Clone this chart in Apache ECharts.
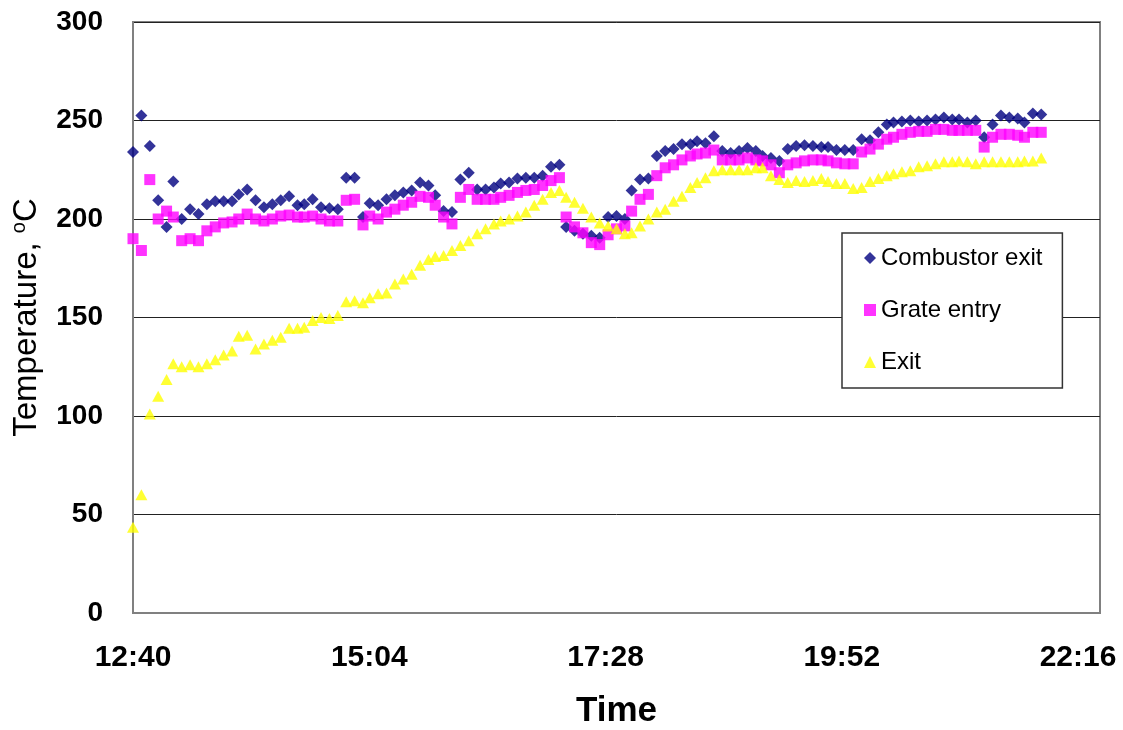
<!DOCTYPE html>
<html>
<head>
<meta charset="utf-8">
<script src="https://cdn.jsdelivr.net/npm/echarts@6/dist/echarts.min.js"></script>
<style>
  html, body { margin: 0; padding: 0; background: #fff; overflow: hidden; }
  #chart { width: 1123px; height: 730px; }
</style>
</head>
<body>
<div id="chart"></div>
<script>
// Logged sample times (HH:MM)
const sampleTimes = [
  '12:40','12:45','12:50','12:55','13:00','13:04','13:09','13:14','13:19','13:24',
  '13:29','13:34','13:39','13:43','13:48','13:53','13:58','14:03','14:08','14:13',
  '14:18','14:22','14:27','14:32','14:37','14:42','14:47','14:52','14:57','15:01',
  '15:06','15:11','15:16','15:21','15:26','15:31','15:36','15:40','15:45','15:50',
  '15:55','16:00','16:05','16:10','16:15','16:19','16:24','16:29','16:34','16:39',
  '16:44','16:49','16:54','16:58','17:03','17:08','17:13','17:18','17:23','17:28',
  '17:33','17:37','17:42','17:47','17:52','17:57','18:02','18:07','18:12','18:16',
  '18:21','18:26','18:31','18:36','18:41','18:46','18:51','18:55','19:00','19:05',
  '19:10','19:15','19:20','19:25','19:30','19:34','19:39','19:44','19:49','19:54',
  '19:59','20:04','20:09','20:13','20:18','20:23','20:28','20:33','20:38','20:43',
  '20:48','20:52','20:57','21:02','21:07','21:12','21:17','21:22','21:27','21:31',
  '21:36','21:41'
];

// Temperatures, °C
const combustorExit = [
  234, 252.5, 237, 209.5, 196, 219, 200, 205, 202.5, 207.5,
  209, 209, 209, 212.5, 215, 209.5, 206, 207.5, 209.5, 211.5,
  207, 207.5, 210, 206, 205.5, 205, 221, 221, 201, 208,
  207, 210, 212, 213.5, 214.5, 218.5, 217, 212, 204, 203.5,
  220, 223.5, 215, 215, 216, 218, 218.5, 220.5, 221, 221,
  222, 226.5, 227.5, 196, 194, 192.5, 191.5, 190.5, 201, 201.5,
  200, 214.5, 220, 220.5, 232, 234.5, 235.5, 238, 238, 239.5,
  238.5, 242, 234.5, 233.5, 234.5, 236, 234.5, 232, 231, 229.5,
  235.5, 237, 237.5, 237, 236.5, 236.5, 235, 235, 235, 240.5,
  240, 244, 248, 249, 249.5, 250, 249.5, 250, 250.5, 251.5,
  250.5, 250.5, 249, 250, 241.5, 248, 252.5, 251.5, 251, 249,
  253.5, 253
];

const grateEntry = [
  190, 184, 220, 200, 204, 201, 189, 190, 189, 194,
  196, 198, 198.5, 200, 202.5, 200, 199, 200, 201.5, 202,
  201, 201, 201.5, 200, 199, 199, 209.5, 210, 197, 201.5,
  200, 203.5, 205, 207, 208.5, 211.5, 211, 207, 201, 197.5,
  211, 215, 210, 210, 210, 211, 212, 213.5, 214.5, 215,
  217, 219.5, 221, 201, 196, 193, 188, 187, 192, 195,
  196.5, 204, 210, 212.5, 222, 226, 227.5, 230, 232, 233,
  233.5, 235, 230, 230, 230, 231, 230, 229.5, 227.5, 223.5,
  227.5, 228.5, 229.5, 230, 230, 229.5, 228.5, 228, 228, 234,
  235.5, 238, 240.5, 241.5, 243, 244, 244.5, 244.5, 245.5, 245.5,
  245, 245, 245, 245, 236.5, 241.5, 243, 243, 242.5, 241.5,
  244, 244
];

const exitTemp = [
  43.5, 60, 101, 110, 118.5, 126.5, 125, 126, 125, 126.5,
  128.5, 131, 133, 140.5, 141, 134, 136.5, 138.5, 140, 144.5,
  144.5, 145, 148.5, 150, 149.5, 151, 158, 158.5, 157.5, 160,
  162, 162.5, 167, 169.5, 172, 176.5, 179.5, 181, 181.5, 184,
  186.5, 189, 192.5, 195, 197.5, 199, 200, 201.5, 203.5, 207,
  210, 213.5, 214.5, 211, 208.5, 205.5, 201, 198, 196.5, 195,
  192.5, 193, 196.5, 200, 203.5, 205, 209, 211.5, 216, 218.5,
  221, 224.5, 225, 225, 225, 225, 226, 226, 222, 220,
  218.5, 219.5, 219, 219.5, 220.5, 219, 218, 218, 215.5, 216,
  219, 220.5, 222, 223, 224, 224.5, 226.5, 227, 228, 229,
  229, 229.5, 229, 228, 229, 229, 229, 229, 229, 229.5,
  229.5, 231
];

// Axis range: 12:40 to 22:16 in steps of 2 h 24 min
const axisStart = '12:40';
const axisEnd = '22:16';
const axisStepMinutes = 144;

function toMinutes(hhmm) {
  const [h, m] = hhmm.split(':').map(Number);
  return h * 60 + m;
}
function toHHMM(mins) {
  const h = Math.floor(mins / 60);
  const m = Math.round(mins % 60);
  return h + ':' + String(m).padStart(2, '0');
}

const originMin = toMinutes(axisStart);
const xs = sampleTimes.map(t => toMinutes(t) - originMin);
const pairs = vals => vals.map((v, i) => [xs[i], v]);

const font = "'Liberation Sans', Arial, sans-serif";

// Time labels sit slightly left of their ticks, more so toward the right end
const tickLabelRich = {};
for (let k = 0; k < 5; k++) {
  tickLabelRich['t' + k] = {
    fontFamily: font, fontSize: 30, fontWeight: 'bold', color: '#000',
    padding: [0, 11 * k, 0, 0]
  };
}

const chart = echarts.init(document.getElementById('chart'), null, {
  renderer: 'canvas', width: 1123, height: 730
});
chart.setOption({
  animation: false,
  backgroundColor: '#ffffff',
  textStyle: { fontFamily: font },
  grid: {
    left: 133, right: 23, top: 22, bottom: 117,
    containLabel: false,
    outerBoundsMode: 'none',
    show: true, borderColor: '#808080', borderWidth: 2, backgroundColor: '#ffffff'
  },
  xAxis: {
    type: 'value',
    min: 0,
    max: toMinutes(axisEnd) - originMin,
    interval: axisStepMinutes,
    name: 'Time',
    nameLocation: 'middle',
    nameGap: 78,
    nameTextStyle: { fontFamily: font, fontSize: 35, fontWeight: 'bold', color: '#000', lineHeight: 40 },
    axisLine: { show: true, onZero: false, lineStyle: { color: '#808080', width: 2 } },
    axisTick: { show: false },
    splitLine: { show: false },
    axisLabel: {
      margin: 30,
      overflow: 'none',
      fontFamily: font, fontSize: 30, fontWeight: 'bold', color: '#000',
      formatter: v => '{t' + Math.round(v / axisStepMinutes) + '|' + toHHMM(originMin + v) + '}',
      rich: tickLabelRich
    }
  },
  yAxis: {
    type: 'value',
    min: 0, max: 300, interval: 50,
    name: 'Temperature, {sup|o}C',
    nameLocation: 'middle',
    nameGap: 87,
    nameTextStyle: {
      fontFamily: font, fontSize: 33, color: '#000', lineHeight: 36,
      rich: { sup: { fontFamily: font, fontSize: 20, lineHeight: 20, verticalAlign: 'top', color: '#000' } }
    },
    axisLine: { show: true, lineStyle: { color: '#808080', width: 2 } },
    axisTick: { show: false },
    splitLine: { show: true, lineStyle: { color: '#222', width: 1 } },
    axisLabel: { margin: 30, fontFamily: font, fontSize: 28, fontWeight: 'bold', color: '#000' }
  },
  legend: {
    orient: 'vertical',
    left: 842, top: 233,
    padding: [12, 20, 13, 22],
    itemGap: 26,
    itemWidth: 12, itemHeight: 12,
    backgroundColor: '#ffffff',
    borderColor: '#333', borderWidth: 1.5,
    textStyle: { fontFamily: font, fontSize: 24, color: '#000', lineHeight: 26 },
    data: ['Combustor exit', 'Grate entry', 'Exit']
  },
  series: [
    {
      name: 'Combustor exit', type: 'scatter', symbol: 'diamond', symbolSize: 12,
      itemStyle: { color: '#000080' }, data: pairs(combustorExit)
    },
    {
      name: 'Grate entry', type: 'scatter', symbol: 'rect', symbolSize: 11,
      itemStyle: { color: '#ff00ff' }, data: pairs(grateEntry)
    },
    {
      name: 'Exit', type: 'scatter', symbol: 'triangle', symbolSize: [12, 11],
      itemStyle: { color: '#ffff00' }, data: pairs(exitTemp)
    }
  ]
});
</script>
</body>
</html>
